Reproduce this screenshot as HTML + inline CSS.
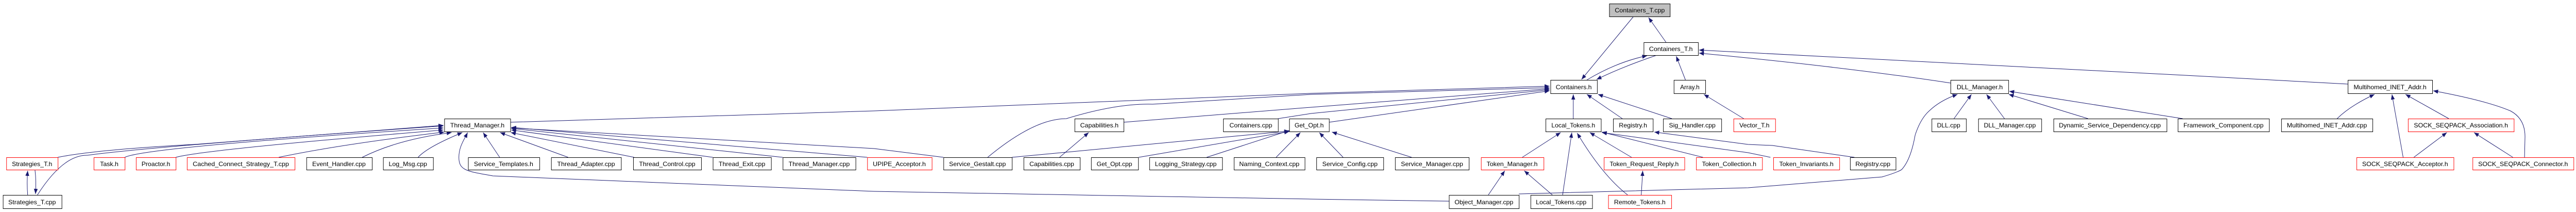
<!DOCTYPE html>
<html><head><meta charset="utf-8"><style>
html,body{margin:0;padding:0;background:#fff;width:100%;height:100%;overflow:hidden}
svg{display:block;position:absolute;left:0;top:0;width:100vw;height:100vh}
text{font-family:"Liberation Sans",sans-serif;font-size:12px;fill:#000}
</style></head><body>
<svg viewBox="0 0 5305 411" preserveAspectRatio="none" xmlns="http://www.w3.org/2000/svg" overflow="hidden">
<defs>
<marker id="a" markerUnits="userSpaceOnUse" markerWidth="11" markerHeight="9" refX="10" refY="4" orient="auto">
<path d="M0,0 L10,4 L0,8 z" fill="#191970"/>
</marker>
</defs>
<g fill="none" stroke="#191970" stroke-width="1" marker-end="url(#a)">
<path d="M3431,82 L3395,34"/>
<path d="M3364,32 L3257,154"/>
<path d="M3268,155 Q3330,120 3392,108"/>
<path d="M3412,107 Q3340,130 3288,154"/>
<path d="M3471,155 L3452,109"/>
<path d="M3591,230 L3509,183"/>
<path d="M4017,161 Q3800,130 3499,103"/>
<path d="M4835,163 L4500,146 L3499,97"/>
<path d="M1051,237 L1800,215 L2700,181 L3191,167"/>
<path d="M2034,305 Q2130,230 2196,230 Q2300,200 2374,202 L2700,183 L3191,170"/>
<path d="M2314,237 L2700,208 L3191,172"/>
<path d="M2632,230 L2700,220 L3191,174"/>
<path d="M2737,237 L3191,176"/>
<path d="M3240,230 L3240,183"/>
<path d="M3341,230 L3268,183"/>
<path d="M3443,230 L3291,183"/>
<path d="M2766,305 L2717,257"/>
<path d="M2907,305 L2743,256"/>
<path d="M2628,305 L2678,257"/>
<path d="M2485,305 L2655,253"/>
<path d="M2345,305 L2655,255"/>
<path d="M2084,305 L2655,254"/>
<path d="M2182,305 L2242,257"/>
<path d="M119,305 Q200,290 400,280 L913,243"/>
<path d="M77,378 Q130,300 180,301 Q300,285 913,244"/>
<path d="M257,305 Q300,285 913,248"/>
<path d="M362,305 Q420,290 913,252"/>
<path d="M574,305 Q700,280 915,256"/>
<path d="M746,305 Q820,270 930,257"/>
<path d="M861,305 Q880,285 952,257"/>
<path d="M2984,390 L2700,386 L1800,371 L1015,341 C960,332 945,330 945,305 C945,285 955,272 963,257"/>
<path d="M1029,305 L995,257"/>
<path d="M1170,305 L1030,257"/>
<path d="M1306,305 L1052,257"/>
<path d="M1468,305 L1053,252"/>
<path d="M1612,305 L1053,249"/>
<path d="M1786,305 L1053,247"/>
<path d="M1943,305 L1800,288 L1053,248"/>
<path d="M3135,305 L3214,257"/>
<path d="M3218,378 L3237,257"/>
<path d="M3352,378 Q3300,340 3248,258"/>
<path d="M3360,305 L3274,257"/>
<path d="M3507,305 L3299,256"/>
<path d="M3646,305 L3600,296 L3299,257"/>
<path d="M3819,305 L3650,282 L3600,280 L3407,256"/>
<path d="M3065,378 L3099,331"/>
<path d="M3197,378 L3139,331"/>
<path d="M3380,378 L3383,331"/>
<path d="M3128,376 L3600,364 L3876,343 Q3905,335 3916,329 Q3935,310 3944,262 Q3955,230 3973,215 Q3995,195 4031,183"/>
<path d="M4024,230 L4060,183"/>
<path d="M4128,230 L4091,183"/>
<path d="M4300,230 L4137,183"/>
<path d="M4495,230 L4138,177"/>
<path d="M4813,230 Q4840,205 4890,183"/>
<path d="M4949,305 L4926,183"/>
<path d="M5043,230 L4954,183"/>
<path d="M5199,305 L5200,265 Q5200,230 5170,215 Q5120,195 5011,176"/>
<path d="M4971,305 L5039,257"/>
<path d="M5175,305 L5095,257"/>
<path d="M57,378 Q55,355 57,331"/>
<path d="M72,329 Q75,352 73,376"/>
</g>
<g stroke-width="1" fill="#fff">
<rect x="3314.5" y="7.5" width="125" height="25" fill="#bfbfbf" stroke="#000"/>
<rect x="3385.5" y="82.5" width="112" height="25" stroke="#000"/>
<rect x="3193.5" y="155.5" width="96" height="26" stroke="#000"/>
<rect x="3447.5" y="155.5" width="65" height="26" stroke="#000"/>
<rect x="4017.5" y="155.5" width="119" height="26" stroke="#000"/>
<rect x="4835.5" y="155.5" width="174" height="26" stroke="#000"/>
<g stroke="#000">
<rect x="915.5" y="230.5" width="136" height="25"/>
<rect x="2213.5" y="230.5" width="101" height="25"/>
<rect x="2519.5" y="230.5" width="113" height="25"/>
<rect x="2655.5" y="230.5" width="82" height="25"/>
<rect x="3183.5" y="230.5" width="114" height="25"/>
<rect x="3322.5" y="230.5" width="82" height="25"/>
<rect x="3425.5" y="230.5" width="120" height="25"/>
<rect x="3978.5" y="230.5" width="71" height="25"/>
<rect x="4074.5" y="230.5" width="130" height="25"/>
<rect x="4229.5" y="230.5" width="233" height="25"/>
<rect x="4485.5" y="230.5" width="188" height="25"/>
<rect x="4698.5" y="230.5" width="188" height="25"/>
<rect x="631.5" y="305.5" width="135" height="24"/>
<rect x="789.5" y="305.5" width="103" height="24"/>
<rect x="964.5" y="305.5" width="147" height="24"/>
<rect x="1135.5" y="305.5" width="144" height="24"/>
<rect x="1304.5" y="305.5" width="140" height="24"/>
<rect x="1468.5" y="305.5" width="120" height="24"/>
<rect x="1612.5" y="305.5" width="150" height="24"/>
<rect x="1943.5" y="305.5" width="141" height="24"/>
<rect x="2108.5" y="305.5" width="116" height="24"/>
<rect x="2247.5" y="305.5" width="97" height="24"/>
<rect x="2367.5" y="305.5" width="150" height="24"/>
<rect x="2541.5" y="305.5" width="146" height="24"/>
<rect x="2711.5" y="305.5" width="138" height="24"/>
<rect x="2873.5" y="305.5" width="152" height="24"/>
<rect x="3810.5" y="305.5" width="94" height="24"/>
<rect x="6.5" y="378.5" width="121" height="26"/>
<rect x="2984.5" y="378.5" width="144" height="26"/>
<rect x="3152.5" y="378.5" width="127" height="26"/>
</g>
<g stroke="#ff0000">
<rect x="3570.5" y="230.5" width="86" height="25"/>
<rect x="4959.5" y="230.5" width="218" height="25"/>
<rect x="13.5" y="305.5" width="106" height="24"/>
<rect x="193.5" y="305.5" width="64" height="24"/>
<rect x="280.5" y="305.5" width="82" height="24"/>
<rect x="385.5" y="305.5" width="222" height="24"/>
<rect x="1786.5" y="305.5" width="133" height="24"/>
<rect x="3050.5" y="305.5" width="129" height="24"/>
<rect x="3303.5" y="305.5" width="166" height="24"/>
<rect x="3493.5" y="305.5" width="136" height="24"/>
<rect x="3652.5" y="305.5" width="136" height="24"/>
<rect x="4853.5" y="305.5" width="200" height="24"/>
<rect x="5092.5" y="305.5" width="208" height="24"/>
<rect x="3312.5" y="378.5" width="130" height="26"/>
</g>
</g>
<g text-anchor="middle">
<text x="3377" y="24" textLength="103" lengthAdjust="spacingAndGlyphs">Containers_T.cpp</text>
<text x="3441" y="99" textLength="90" lengthAdjust="spacingAndGlyphs">Containers_T.h</text>
<text x="3241" y="173" textLength="74" lengthAdjust="spacingAndGlyphs">Containers.h</text>
<text x="3480" y="173" textLength="40" lengthAdjust="spacingAndGlyphs">Array.h</text>
<text x="4077" y="173" textLength="95" lengthAdjust="spacingAndGlyphs">DLL_Manager.h</text>
<text x="4922" y="173" textLength="150" lengthAdjust="spacingAndGlyphs">Multihomed_INET_Addr.h</text>
<text x="983" y="247" textLength="112" lengthAdjust="spacingAndGlyphs">Thread_Manager.h</text>
<text x="2264" y="247" textLength="79" lengthAdjust="spacingAndGlyphs">Capabilities.h</text>
<text x="2576" y="247" textLength="88" lengthAdjust="spacingAndGlyphs">Containers.cpp</text>
<text x="2696" y="247" textLength="60" lengthAdjust="spacingAndGlyphs">Get_Opt.h</text>
<text x="3240" y="247" textLength="90" lengthAdjust="spacingAndGlyphs">Local_Tokens.h</text>
<text x="3363" y="247" textLength="58" lengthAdjust="spacingAndGlyphs">Registry.h</text>
<text x="3485" y="247" textLength="96" lengthAdjust="spacingAndGlyphs">Sig_Handler.cpp</text>
<text x="3613" y="247" textLength="62" lengthAdjust="spacingAndGlyphs">Vector_T.h</text>
<text x="4013" y="247" textLength="48" lengthAdjust="spacingAndGlyphs">DLL.cpp</text>
<text x="4139" y="247" textLength="107" lengthAdjust="spacingAndGlyphs">DLL_Manager.cpp</text>
<text x="4345" y="247" textLength="210" lengthAdjust="spacingAndGlyphs">Dynamic_Service_Dependency.cpp</text>
<text x="4579" y="247" textLength="165" lengthAdjust="spacingAndGlyphs">Framework_Component.cpp</text>
<text x="4792" y="247" textLength="165" lengthAdjust="spacingAndGlyphs">Multihomed_INET_Addr.cpp</text>
<text x="5068" y="247" textLength="194" lengthAdjust="spacingAndGlyphs">SOCK_SEQPACK_Association.h</text>
<text x="66" y="322" textLength="83" lengthAdjust="spacingAndGlyphs">Strategies_T.h</text>
<text x="225" y="322" textLength="38" lengthAdjust="spacingAndGlyphs">Task.h</text>
<text x="321" y="322" textLength="59" lengthAdjust="spacingAndGlyphs">Proactor.h</text>
<text x="496" y="322" textLength="198" lengthAdjust="spacingAndGlyphs">Cached_Connect_Strategy_T.cpp</text>
<text x="698" y="322" textLength="110" lengthAdjust="spacingAndGlyphs">Event_Handler.cpp</text>
<text x="840" y="322" textLength="79" lengthAdjust="spacingAndGlyphs">Log_Msg.cpp</text>
<text x="1037" y="322" textLength="122" lengthAdjust="spacingAndGlyphs">Service_Templates.h</text>
<text x="1207" y="322" textLength="119" lengthAdjust="spacingAndGlyphs">Thread_Adapter.cpp</text>
<text x="1374" y="322" textLength="116" lengthAdjust="spacingAndGlyphs">Thread_Control.cpp</text>
<text x="1528" y="322" textLength="96" lengthAdjust="spacingAndGlyphs">Thread_Exit.cpp</text>
<text x="1687" y="322" textLength="126" lengthAdjust="spacingAndGlyphs">Thread_Manager.cpp</text>
<text x="1852" y="322" textLength="109" lengthAdjust="spacingAndGlyphs">UPIPE_Acceptor.h</text>
<text x="2013" y="322" textLength="117" lengthAdjust="spacingAndGlyphs">Service_Gestalt.cpp</text>
<text x="2166" y="322" textLength="92" lengthAdjust="spacingAndGlyphs">Capabilities.cpp</text>
<text x="2295" y="322" textLength="73" lengthAdjust="spacingAndGlyphs">Get_Opt.cpp</text>
<text x="2442" y="322" textLength="127" lengthAdjust="spacingAndGlyphs">Logging_Strategy.cpp</text>
<text x="2614" y="322" textLength="124" lengthAdjust="spacingAndGlyphs">Naming_Context.cpp</text>
<text x="2780" y="322" textLength="114" lengthAdjust="spacingAndGlyphs">Service_Config.cpp</text>
<text x="2949" y="322" textLength="128" lengthAdjust="spacingAndGlyphs">Service_Manager.cpp</text>
<text x="3114" y="322" textLength="105" lengthAdjust="spacingAndGlyphs">Token_Manager.h</text>
<text x="3386" y="322" textLength="142" lengthAdjust="spacingAndGlyphs">Token_Request_Reply.h</text>
<text x="3561" y="322" textLength="112" lengthAdjust="spacingAndGlyphs">Token_Collection.h</text>
<text x="3720" y="322" textLength="112" lengthAdjust="spacingAndGlyphs">Token_Invariants.h</text>
<text x="3857" y="322" textLength="72" lengthAdjust="spacingAndGlyphs">Registry.cpp</text>
<text x="4953" y="322" textLength="177" lengthAdjust="spacingAndGlyphs">SOCK_SEQPACK_Acceptor.h</text>
<text x="5196" y="322" textLength="185" lengthAdjust="spacingAndGlyphs">SOCK_SEQPACK_Connector.h</text>
<text x="66" y="396" textLength="98" lengthAdjust="spacingAndGlyphs">Strategies_T.cpp</text>
<text x="3056" y="396" textLength="121" lengthAdjust="spacingAndGlyphs">Object_Manager.cpp</text>
<text x="3215" y="396" textLength="104" lengthAdjust="spacingAndGlyphs">Local_Tokens.cpp</text>
<text x="3377" y="396" textLength="106" lengthAdjust="spacingAndGlyphs">Remote_Tokens.h</text>
</g>
</svg>
</body></html>
